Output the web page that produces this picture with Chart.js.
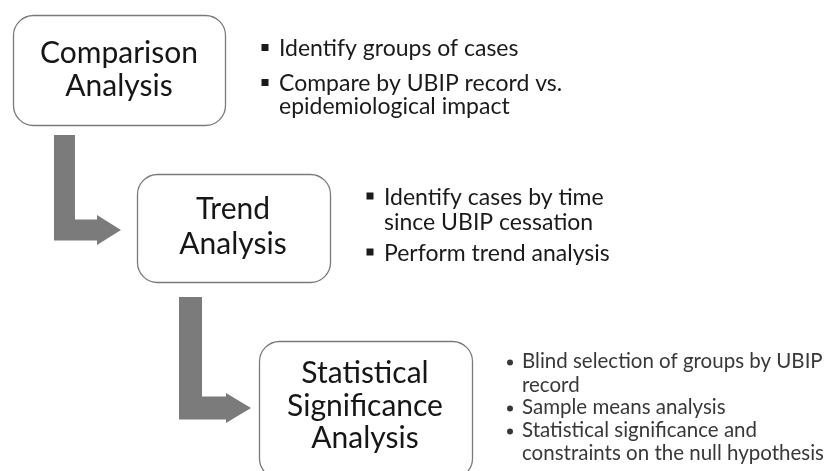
<!DOCTYPE html>
<html>
<head>
<meta charset="utf-8">
<script src="https://cdn.jsdelivr.net/npm/chart.js@4"></script>
<style>
html,body{margin:0;padding:0;background:#ffffff;}
#wrap{width:836px;height:471px;position:relative;}
</style>
</head>
<body>
<div id="wrap"><canvas id="c" width="836" height="471"></canvas></div>
<script>
// ---- content (text) ----
const stageNames = [
  ["Comparison", "Analysis"],
  ["Trend", "Analysis"],
  ["Statistical", "Significance", "Analysis"]
];
const comparisonBullets = [
  ["Identify groups of cases"],
  ["Compare by UBIP record vs.", "epidemiological impact"]
];
const trendBullets = [
  ["Identify cases by time", "since UBIP cessation"],
  ["Perform trend analysis"]
];
const significanceBullets = [
  ["Blind selection of groups by UBIP", "record"],
  ["Sample means analysis"],
  ["Statistical significance and", "constraints on the null hypothesis"]
];
const bulletLists = [comparisonBullets, trendBullets, significanceBullets];

// ---- layout (positions in scale units, styles) ----
const layout = {
  boxes: [
    {x0: 13,  x1: 225, y0: 15,  y1: 125, cx: 119, baselines: [63, 96]},
    {x0: 137, x1: 330, y0: 174, y1: 282, cx: 233, baselines: [219, 254]},
    {x0: 259, x1: 472, y0: 341, y1: 478, cx: 365, baselines: [383, 416, 448]}
  ],
  arrows: [
    {x0: 54,  top: 135, cy: 230, headX: 97,  tipX: 121, w: 21, hh: 15},
    {x0: 179, top: 297, cy: 408, headX: 226, tipX: 251, w: 23, hh: 15}
  ],
  lists: [
    {markX: 265, textX: 279, size: 23, color: "#1a1a1a", mark: "square", markUp: 8.5, baselines: [[56], [91, 114]]},
    {markX: 370, textX: 384, size: 23, color: "#1a1a1a", mark: "square", markUp: 9, baselines: [[205, 230], [261]]},
    {markX: 510, textX: 522, size: 20.5, color: "#383838", mark: "dot", markUp: 5.5, baselines: [[368, 392], [414], [437, 460]]}
  ],
  boxFont: 30,
  fontFamily: "Lato, 'Open Sans', sans-serif",
  boxStroke: "#7a7a7a",
  arrowFill: "#7b7b7b",
  textColor: "#161616"
};

function roundRect(ctx, x, y, w, h, r) {
  ctx.beginPath();
  ctx.moveTo(x + r, y);
  ctx.lineTo(x + w - r, y);
  ctx.arcTo(x + w, y, x + w, y + r, r);
  ctx.lineTo(x + w, y + h - r);
  ctx.arcTo(x + w, y + h, x + w - r, y + h, r);
  ctx.lineTo(x + r, y + h);
  ctx.arcTo(x, y + h, x, y + h - r, r);
  ctx.lineTo(x, y + r);
  ctx.arcTo(x, y, x + r, y, r);
  ctx.closePath();
}

const flowPlugin = {
  id: "flow",
  afterDraw(chart) {
    const ctx = chart.ctx;
    const sx = chart.scales.x, sy = chart.scales.y;
    const X = v => sx.getPixelForValue(v);
    const Y = v => sy.getPixelForValue(v);
    ctx.save();
    // arrows
    ctx.fillStyle = layout.arrowFill;
    layout.arrows.forEach(a => {
      const half = a.w / 2;
      ctx.beginPath();
      ctx.moveTo(X(a.x0), Y(a.top));
      ctx.lineTo(X(a.x0 + a.w), Y(a.top));
      ctx.lineTo(X(a.x0 + a.w), Y(a.cy - half));
      ctx.lineTo(X(a.headX), Y(a.cy - half));
      ctx.lineTo(X(a.headX), Y(a.cy - a.hh));
      ctx.lineTo(X(a.tipX), Y(a.cy));
      ctx.lineTo(X(a.headX), Y(a.cy + a.hh));
      ctx.lineTo(X(a.headX), Y(a.cy + half));
      ctx.lineTo(X(a.x0), Y(a.cy + half));
      ctx.closePath();
      ctx.fill();
    });
    // boxes
    layout.boxes.forEach((b, i) => {
      const x = X(b.x0), y = Y(b.y0), w = X(b.x1) - x, h = Y(b.y1) - y;
      roundRect(ctx, x + 0.5, y + 0.5, w, h, 20);
      ctx.fillStyle = "#ffffff";
      ctx.fill();
      ctx.lineWidth = 1.3;
      ctx.strokeStyle = layout.boxStroke;
      ctx.stroke();
      ctx.fillStyle = layout.textColor;
      ctx.font = layout.boxFont + "px " + layout.fontFamily;
      ctx.textAlign = "center";
      ctx.textBaseline = "alphabetic";
      stageNames[i].forEach((t, j) => ctx.fillText(t, X(b.cx), Y(b.baselines[j])));
    });
    // bullet lists
    layout.lists.forEach((L, i) => {
      ctx.font = L.size + "px " + layout.fontFamily;
      ctx.textAlign = "left";
      ctx.textBaseline = "alphabetic";
      ctx.fillStyle = L.color;
      bulletLists[i].forEach((item, k) => {
        item.forEach((line, j) => {
          const by = Y(L.baselines[k][j]);
          ctx.fillText(line, X(L.textX), by);
          if (j === 0) {
            const my = by - L.markUp;
            if (L.mark === "square") {
              ctx.fillRect(X(L.markX) - 3.5, my - 3.5, 7, 7);
            } else {
              ctx.beginPath();
              ctx.arc(X(L.markX), my, 3, 0, Math.PI * 2);
              ctx.fill();
            }
          }
        });
      });
    });
    ctx.restore();
  }
};

new Chart(document.getElementById("c"), {
  type: "scatter",
  data: { datasets: [{ data: [], pointRadius: 0 }] },
  options: {
    responsive: false,
    animation: false,
    devicePixelRatio: 1,
    layout: { padding: 0 },
    plugins: { legend: { display: false }, tooltip: { enabled: false } },
    scales: {
      x: { type: "linear", min: 0, max: 836, display: false },
      y: { type: "linear", min: 0, max: 471, reverse: true, display: false }
    }
  },
  plugins: [flowPlugin]
});
</script>
</body>
</html>
